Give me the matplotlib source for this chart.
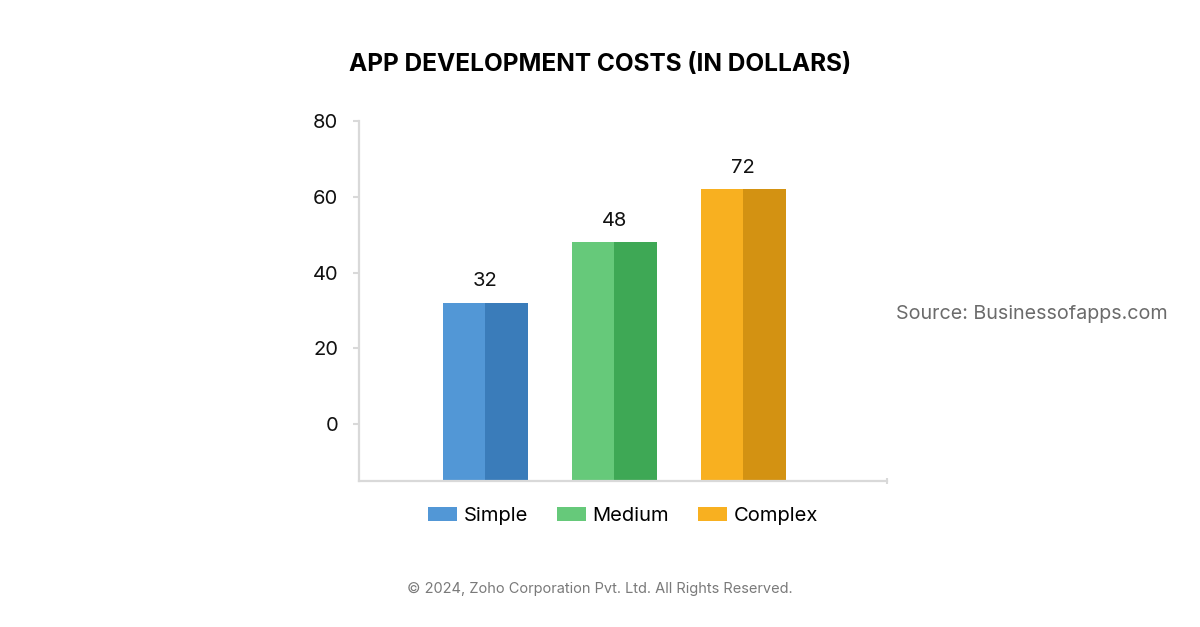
import numpy as np
import matplotlib.pyplot as plt
from matplotlib.patches import Patch

plt.rcParams['font.family'] = ['Inter', 'DejaVu Sans']

# Chart data
categories = ["Simple", "Medium", "Complex"]
bar_heights = [32, 48, 62]      # where the bars actually reach on the axis
value_labels = ["32", "48", "72"]  # numbers printed above the bars
yticks = [0, 20, 40, 60, 80]

light_colors = ["#5297d6", "#66c97a", "#f8b020"]
dark_colors = ["#3a7cba", "#3ea855", "#d39212"]

ymin, ymax = -15, 80

fig = plt.figure(figsize=(12, 6.27), dpi=100)
ax = fig.add_axes([0.2992, 0.2329, 0.44, 0.5741])

x = np.arange(len(categories))
w = 0.66
h = np.array(bar_heights) - ymin
# two halves per bar: light left, dark right
ax.bar(x - w / 4, h, width=w / 2, bottom=ymin, color=light_colors)
ax.bar(x + w / 4, h, width=w / 2, bottom=ymin, color=dark_colors)

for xi, top, lab in zip(x, bar_heights, value_labels):
    ax.text(xi, top + 3.3, lab, ha='center', va='bottom', fontsize=14.5, color='#111111')

ax.set_xlim(-0.977, 3.116)
ax.set_ylim(ymin, ymax)
ax.set_yticks(yticks)
ax.set_yticklabels([str(t) for t in yticks], fontsize=14.5, color='#111111')
ax.set_xticks([3.116])
ax.set_xticklabels([""])

for side in ['top', 'right']:
    ax.spines[side].set_visible(False)
for side in ['left', 'bottom']:
    ax.spines[side].set_color('#d9d9d9')
    ax.spines[side].set_linewidth(1.6)
ax.tick_params(axis='y', length=4, width=1.5, color='#d9d9d9', pad=11)
ax.tick_params(axis='x', length=4, width=1.5, color='#d9d9d9', direction='inout')

# title
fig.text(0.5, (627 - 64) / 627, "APP DEVELOPMENT COSTS (IN DOLLARS)", ha='center', va='center',
         fontsize=17.6, fontweight='bold', color='#000000')

# legend
handles = [Patch(facecolor=c, edgecolor='none') for c in light_colors]
fig.legend(handles, categories, loc='center', bbox_to_anchor=(623 / 1200, (627 - 516) / 627),
           ncol=3, frameon=False, fontsize=14.5, handlelength=1.45, handleheight=0.7,
           handletextpad=0.3, columnspacing=1.45)

# side note and footer
fig.text(1168 / 1200, (627 - 314) / 627, "Source: Businessofapps.com", ha='right', va='center',
         fontsize=14.2, color='#6b6b6b')
fig.text(600 / 1200, (627 - 589) / 627, "© 2024, Zoho Corporation Pvt. Ltd. All Rights Reserved.",
         ha='center', va='center', fontsize=10.5, color='#7a7a7a')

fig.savefig("out.png", dpi=100, facecolor='white')
